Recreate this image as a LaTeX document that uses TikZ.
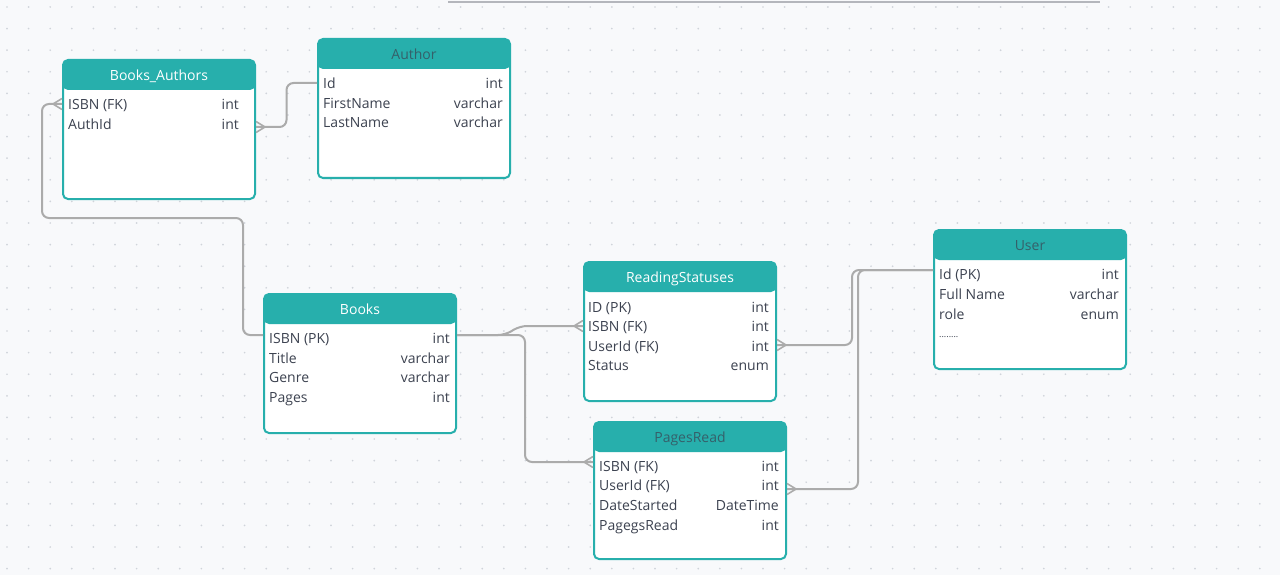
\documentclass[tikz,border=0pt]{standalone}
\usepackage{fontspec}
\setmainfont{Open Sans}
\usetikzlibrary{calc}
\definecolor{bgc}{HTML}{F8F9FB}
\definecolor{dotc}{HTML}{D0D4DA}
\definecolor{erteal}{HTML}{27AFAC}
\definecolor{hdark}{HTML}{35606A}
\definecolor{txtc}{HTML}{3C4250}
\definecolor{connc}{HTML}{ABABAB}
\definecolor{topline}{HTML}{B4B6BC}
\tikzset{
  ertable/.style={draw=erteal, line width=2pt, fill=white, rounded corners=5pt,
    anchor=north west, inner sep=0pt, minimum width=192pt, minimum height=139pt,
    path picture={\fill[erteal] (path picture bounding box.north west) rectangle ([yshift=-30pt]path picture bounding box.north east);}},
  htitle/.style={inner sep=0pt, yshift=-2pt, font=\fontsize{14}{16}\selectfont, text height=10pt, text depth=3pt},
  lft/.style={anchor=west, inner sep=0pt, yshift=-2pt, text=txtc, font=\fontsize{14}{16}\selectfont, text height=10pt, text depth=3pt},
  rgt/.style={anchor=east, inner sep=0pt, yshift=-2pt, text=txtc, font=\fontsize{14}{16}\selectfont, text height=10pt, text depth=3pt},
  conn/.style={draw=connc, line width=2pt, rounded corners=7pt},
  crowW/.pic={\draw[connc, line width=1.6pt] (-9,0) -- (0,-5.5) (-9,0) -- (0,5.5);},
  crowE/.pic={\draw[connc, line width=1.6pt] (9,0) -- (0,-5.5) (9,0) -- (0,5.5);}
}
\begin{document}
\begin{tikzpicture}[x=1pt, y=-1pt]
\useasboundingbox (0,0) rectangle (1280,575);
\fill[bgc] (0,0) rectangle (1280,575);
\foreach \i in {0,...,59} {\foreach \j in {0,...,26} {\fill[dotc] (7+\i*21.6, 7+\j*21.6) circle (0.95);}}
\draw[topline, line width=2.5pt] (448,2) -- (1100,2);

% Books_Authors
\node[ertable] (ba) at (62,59) {};
\node[htitle, text=white] (ba-h) at ($(ba.north)+(0,16)$) {Books\_Authors};
\node[lft] (ba-l1) at (68,104) {ISBN (FK)};
\node[rgt] (ba-r1) at (239,104) {int};
\node[lft] (ba-l2) at (68,124) {AuthId};
\node[rgt] (ba-r2) at (239,124) {int};

% Author
\node[ertable] (au) at (317,38) {};
\node[htitle, text=hdark] (au-h) at ($(au.north)+(0,16)$) {Author};
\node[lft] (au-l1) at (323,83) {Id};
\node[rgt] (au-r1) at (503,83) {int};
\node[lft] (au-l2) at (323,103) {FirstName};
\node[rgt] (au-r2) at (503,103) {varchar};
\node[lft] (au-l3) at (323,122) {LastName};
\node[rgt] (au-r3) at (503,122) {varchar};

% Books
\node[ertable] (bk) at (263,293) {};
\node[htitle, text=white] (bk-h) at ($(bk.north)+(0,16)$) {Books};
\node[lft] (bk-l1) at (269,338) {ISBN (PK)};
\node[rgt] (bk-r1) at (450,338) {int};
\node[lft] (bk-l2) at (269,358) {Title};
\node[rgt] (bk-r2) at (450,358) {varchar};
\node[lft] (bk-l3) at (269,377) {Genre};
\node[rgt] (bk-r3) at (450,377) {varchar};
\node[lft] (bk-l4) at (269,397) {Pages};
\node[rgt] (bk-r4) at (450,397) {int};

% ReadingStatuses
\node[ertable] (rs) at (583,261) {};
\node[htitle, text=white] (rs-h) at ($(rs.north)+(0,16)$) {ReadingStatuses};
\node[lft] (rs-l1) at (588,307) {ID (PK)};
\node[rgt] (rs-r1) at (769,307) {int};
\node[lft] (rs-l2) at (588,326) {ISBN (FK)};
\node[rgt] (rs-r2) at (769,326) {int};
\node[lft] (rs-l3) at (588,346) {UserId (FK)};
\node[rgt] (rs-r3) at (769,346) {int};
\node[lft] (rs-l4) at (588,365) {Status};
\node[rgt] (rs-r4) at (769,365) {enum};

% User
\node[ertable] (us) at (933,229) {};
\node[htitle, text=hdark] (us-h) at ($(us.north)+(0,16)$) {User};
\node[lft] (us-l1) at (939,274) {Id (PK)};
\node[rgt] (us-r1) at (1119,274) {int};
\node[lft] (us-l2) at (939,294) {Full Name};
\node[rgt] (us-r2) at (1119,294) {varchar};
\node[lft] (us-l3) at (939,314) {role};
\node[rgt] (us-r3) at (1119,314) {enum};
\node[lft] (us-l4) at (939,332) {\fontsize{9}{10}\selectfont ........};

% PagesRead
\node[ertable, minimum height=137pt] (pr) at (593,421) {};
\node[htitle, text=hdark] (pr-h) at ($(pr.north)+(0,16)$) {PagesRead};
\node[lft] (pr-l1) at (599,466) {ISBN (FK)};
\node[rgt] (pr-r1) at (779,466) {int};
\node[lft] (pr-l2) at (599,485) {UserId (FK)};
\node[rgt] (pr-r2) at (779,485) {int};
\node[lft] (pr-l3) at (599,505) {DateStarted};
\node[rgt] (pr-r3) at (779,505) {DateTime};
\node[lft] (pr-l4) at (599,525) {PagegsRead};
\node[rgt] (pr-r4) at (779,525) {int};

% connector end points
\coordinate (c-ba-isbn) at ($(ba.west |- ba-l1.west)+(0,-2)$);
\coordinate (c-ba-auth) at ($(ba.east |- ba-l2.west)+(0,1)$);
\coordinate (c-au-id) at ($(au.west |- au-l1.west)+(0,-2)$);
\coordinate (c-bk-isbnW) at ($(bk.west |- bk-l1.west)+(0,-5)$);
\coordinate (c-bk-isbnE) at ($(bk.east |- bk-l1.west)+(0,-5)$);
\coordinate (c-rs-isbn) at ($(rs.west |- rs-l2.west)+(0,-2)$);
\coordinate (c-rs-uid) at ($(rs.east |- rs-l3.west)+(0,-3)$);
\coordinate (c-us-id) at ($(us.west |- us-l1.west)+(0,-6)$);
\coordinate (c-pr-isbn) at ($(pr.west |- pr-l1.west)+(0,-6)$);
\coordinate (c-pr-uid) at ($(pr.east |- pr-l2.west)+(0,2)$);
\coordinate (j1) at (42,218);
\coordinate (j2) at (243,218);
\coordinate (j3) at (525,462);
\coordinate (j4) at (852,270);
\coordinate (j5) at (858,270);

% connectors
\draw[conn] (c-ba-auth) -| ($(c-ba-auth)!0.5!(c-au-id)$) |- (c-au-id);
\draw[conn] (c-ba-isbn) -| (j1) -- (j2) |- (c-bk-isbnW);
\draw[conn] (c-bk-isbnE) -- (505,335) -- (520,326) -- (c-rs-isbn);
\draw[conn] (c-bk-isbnE) -| (j3) -- (c-pr-isbn);
\draw[conn] (c-rs-uid) -| (j4) -- (c-us-id);
\draw[conn] (c-pr-uid) -| (j5) -- (c-us-id);

% crow's feet
\pic at (c-ba-isbn) {crowW};
\pic at (c-ba-auth) {crowE};
\pic at (c-rs-isbn) {crowW};
\pic at (c-pr-isbn) {crowW};
\pic at (c-rs-uid) {crowE};
\pic at (c-pr-uid) {crowE};
\end{tikzpicture}
\end{document}
